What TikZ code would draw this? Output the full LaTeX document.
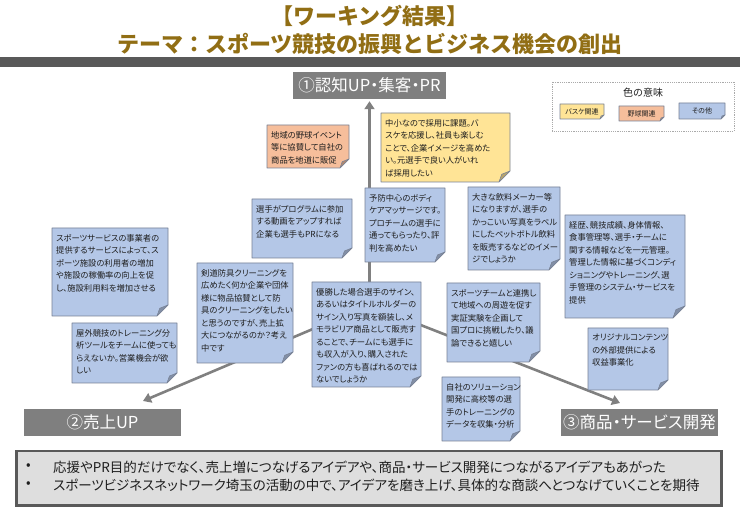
\documentclass[tikz,border=0pt]{standalone}
\usepackage{fontspec}
\newfontfamily\jp{Noto Sans CJK JP}
\newfontfamily\jpp[RawFeature=+palt]{Noto Sans CJK JP}
\usetikzlibrary{arrows.meta}
\definecolor{noteblue}{RGB}{180,199,231}
\definecolor{notesalmon}{RGB}{246,190,155}
\definecolor{noteyellow}{RGB}{255,228,150}
\definecolor{noteline}{RGB}{120,130,150}
\definecolor{labelgray}{RGB}{127,127,127}
\definecolor{bargray}{RGB}{89,89,89}
\definecolor{titlegold}{RGB}{145,110,20}
\definecolor{conngray}{RGB}{128,128,128}
\definecolor{txt}{RGB}{30,30,30}
\definecolor{sumfill}{RGB}{222,222,222}
\definecolor{legline}{RGB}{170,170,170}

% name, x, y, w, h, fill, fold, text
\newcommand{\stickynote}[8]{%
  \path[notebody, fill=#6] (#2,#3) -- ++(#4,0) -- ++(0,{#5-#7}) -- ++(-#7,#7) -- ++({-#4+#7},0) -- cycle;
  \path[notebody, fill=#6!72!black] ({#2+#4-#7},{#3+#5}) -- ++({0.25*#7},{-0.7*#7}) -- ++({0.75*#7},{-0.3*#7}) -- cycle;
  \node[notetext] (#1) at ({#2+4},{#3+6}) {#8};
}
% name, x, y, w, h, fill, text (legend item)
\newcommand{\legitem}[7]{%
  \path[notebody, fill=#6] (#2,#3) -- ++(#4,0) -- ++(0,{#5-4}) -- ++(-4,4) -- ++({-#4+4},0) -- cycle;
  \path[notebody, fill=#6!72!black] ({#2+#4-4},{#3+#5}) -- ++(1,-3) -- ++(3,-1) -- cycle;
  \node[legtext] (#1) at ({#2+#4/2},{#3+#5/2}) {#7};
}

\begin{document}
\begin{tikzpicture}[x=1pt,y=-1pt,
  notebody/.style={draw=noteline, line width=0.6pt, line join=round},
  notetext/.style={anchor=north west, inner sep=0pt, align=left, text=txt, font=\jpp\fontsize{8.3}{12.5}\selectfont},
  lbl/.style={fill=labelgray, text=white, inner sep=0pt, font=\jpp\fontsize{16.5}{18}\selectfont},
  conn/.style={draw=conngray, line width=2.6pt, -{Triangle[width=10pt,length=8pt]}},
  ttl/.style={text=titlegold, font=\jp\bfseries\fontsize{22}{26}\selectfont, inner sep=0pt},
  sumtext/.style={anchor=west, inner sep=0pt, text=txt, font=\jpp\fontsize{13.5}{16}\selectfont},
  legtext/.style={inner sep=0pt, text=txt, font=\jpp\fontsize{7}{8}\selectfont}]
\useasboundingbox[fill=white] (0,0) rectangle (740,513);

% title
\node[ttl] (t1) at (370,16) {【ワーキング結果】};
\node[ttl] (t2) at (370,44) {テーマ：スポーツ競技の振興とビジネス機会の創出};
\fill[bargray] (0,57) rectangle (740,67);

% category labels
\node[lbl, minimum width=153, minimum height=27] (b1) at (369.5,85.5) {①認知UP・集客・PR};
\node[lbl, minimum width=157, minimum height=27] (b2) at (102.5,422.5) {②売上UP};
\node[lbl, minimum width=157, minimum height=27] (b3) at (639.5,422.5) {③商品・サービス開発};

% connectors
\coordinate (ctr) at (369.5,305);
\coordinate (tip2) at (143,401);
\coordinate (tip3) at (620,403);
\draw[conn, shorten >=2pt] (ctr) -- (b1.south);
\draw[conn] (ctr) -- (tip2);
\draw[conn] (ctr) -- (tip3);

% legend
\draw[legline, line width=0.6pt, dash pattern=on 1.2pt off 1pt] (552,82) rectangle (734,131);
\node[inner sep=0pt, text=txt, font=\jp\fontsize{10}{12}\selectfont] (legt) at (643,93) {色の意味};
\legitem{lg1}{560}{104}{44}{15}{noteyellow}{バスケ関連}
\legitem{lg2}{619}{106}{45}{15}{notesalmon}{野球関連}
\legitem{lg3}{679}{103}{46}{16}{noteblue}{その他}

% notes
\stickynote{n1}{267}{125}{82}{43}{notesalmon}{9}{地域の野球イベント\\等に協賛して自社の\\商品を地道に販促}
\stickynote{n2}{381}{113}{129}{69}{noteyellow}{11}{中小なので採用に課題。バ\\スケを応援し、社員も楽しむ\\ことで、企業イメージを高めた\\い。元選手で良い人がいれ\\ば採用したい}
\stickynote{n3}{252}{199}{100}{59}{noteblue}{10}{選手がプログラムに参加\\する動画をアップすれば\\企業も選手もPRになる}
\stickynote{n4}{365}{188}{80}{74}{noteblue}{10}{予防中心のボディ\\ケアマッサージです。\\プロチームの選手に\\通ってもらったり、評\\判を高めたい}
\stickynote{n5}{468}{187}{92}{83}{noteblue}{11}{大きな飲料メーカー等\\になりますが、選手の\\かっこいい写真をラベル\\にしたペットボトル飲料\\を販売するなどのイメー\\ジでしょうか}
\stickynote{n6}{565}{215}{120}{103}{noteblue}{12}{経歴、競技成績、身体情報、\\食事管理等、選手・チームに\\関する情報などを一元管理。\\管理した情報に基づくコンディ\\ショニングやトレーニング、選\\手管理のシステム・サービスを\\提供}
\stickynote{n7}{447}{283}{93}{79}{noteblue}{11}{スポーツチームと連携し\\て地域への周遊を促す\\実証実験を企画して\\国プロに挑戦したり、議\\論できると嬉しい}
\stickynote{n8}{588}{328}{80}{62}{noteblue}{10}{オリジナルコンテンツ\\の外部提供による\\収益事業化}
\stickynote{n9}{52}{228}{116}{88}{noteblue}{11}{スポーツサービスの事業者の\\提供するサービスによって、ス\\ポーツ施設の利用者の増加\\や施設の稼働率の向上を促\\し、施設利用料を増加させる}
\stickynote{n10}{72}{323}{105}{60}{noteblue}{10}{屋外競技のトレーニング分\\析ツールをチームに使っても\\らえないか。営業機会が欲\\しい}
\stickynote{n11}{197}{263}{96}{100}{noteblue}{11}{剣道防具クリーニングを\\広めたく何か企業や団体\\様に物品協賛として防\\具のクリーニングをしたい\\と思うのですが、売上拡\\大につながるのか？考え\\中です}
\stickynote{n12}{312}{282}{109}{105}{noteblue}{11}{優勝した場合選手のサイン、\\あるいはタイトルホルダーの\\サイン入り写真を額装し、メ\\モラビリア商品として販売す\\ることで、チームにも選手に\\も収入が入り、購入された\\ファンの方も喜ばれるのでは\\ないでしょうか}
\stickynote{n13}{442}{377}{78}{64}{noteblue}{10}{自社のソリューション\\開発に高校等の選\\手のトレーニングの\\データを収集・分析}

% summary box
\node[draw=bargray, line width=2.5pt, fill=sumfill, minimum width=705, minimum height=54, anchor=north west, inner sep=0pt] (sum) at (15,450) {};
\node[sumtext] (bl1) at (26,467) {•};
\node[sumtext] (bl2) at (26,485) {•};
\node[sumtext] (s1) at (53,467) {応援やPR目的だけでなく、売上増につなげるアイデアや、商品・サービス開発につながるアイデアもあがった};
\node[sumtext] (s2) at (53,485) {スポーツビジネスネットワーク埼玉の活動の中で、アイデアを磨き上げ、具体的な商談へとつなげていくことを期待};
\end{tikzpicture}
\end{document}
